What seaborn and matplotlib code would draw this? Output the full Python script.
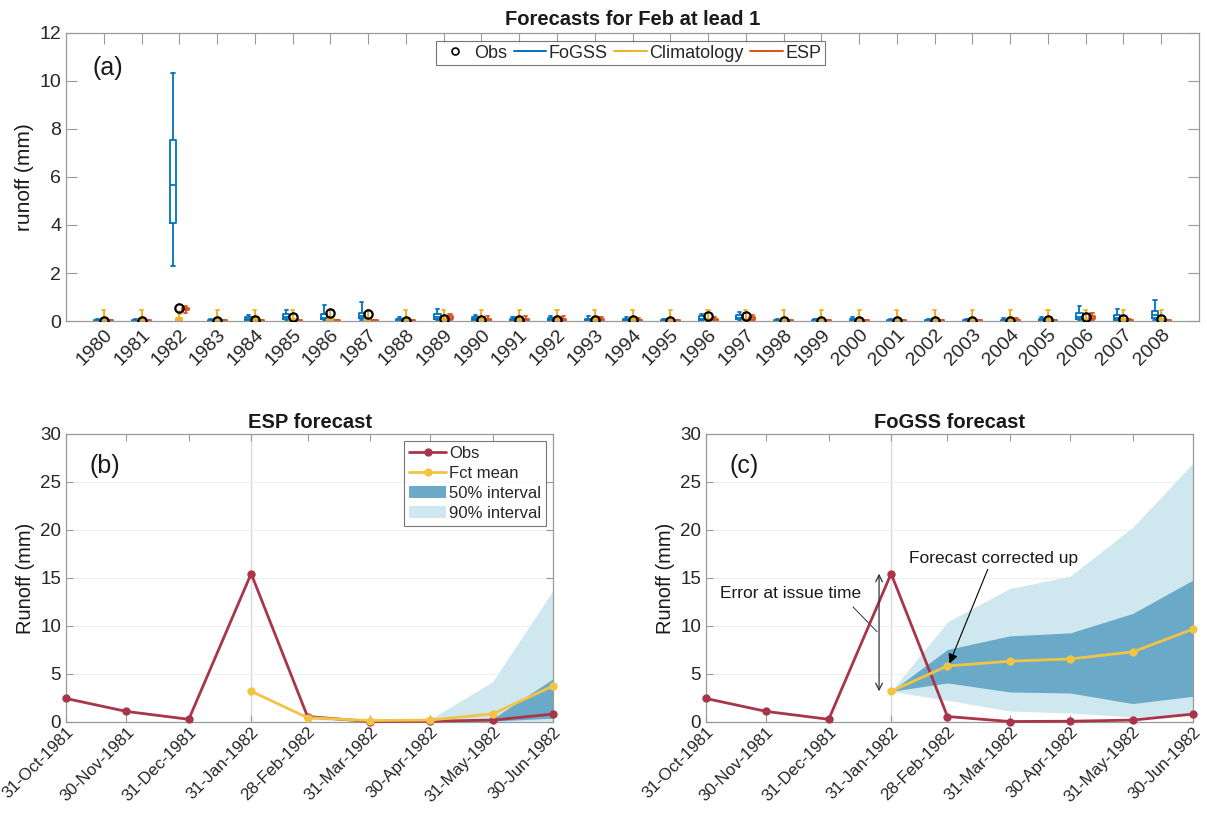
import numpy as np
import pandas as pd
import matplotlib
matplotlib.use("Agg")
import matplotlib.pyplot as plt
import matplotlib.dates as mdates
from matplotlib.lines import Line2D
from matplotlib.patches import Patch
import seaborn as sns

# ---------------- Panel (a): February forecasts, lead 1 ----------------
years = [str(y) for y in range(1980, 2009)]

obs_feb = [0.02, 0.02, 0.55, 0.02, 0.03, 0.17, 0.32, 0.28, 0.02, 0.10,
           0.03, 0.03, 0.03, 0.03, 0.03, 0.02, 0.20, 0.22, 0.02, 0.02,
           0.02, 0.02, 0.02, 0.02, 0.02, 0.03, 0.15, 0.08, 0.07]

# FoGSS ensemble: whisker low, lower quartile, median, upper quartile, whisker high
fogss_lo = [0.00, 0.00, 2.30, 0.00, 0.00, 0.02, 0.02, 0.03, 0.00, 0.02,
            0.00, 0.00, 0.00, 0.00, 0.00, 0.00, 0.00, 0.02, 0.00, 0.00,
            0.00, 0.00, 0.00, 0.00, 0.00, 0.00, 0.02, 0.00, 0.03]
fogss_q1 = [0.01, 0.01, 4.10, 0.01, 0.03, 0.10, 0.07, 0.12, 0.02, 0.10,
            0.04, 0.02, 0.03, 0.03, 0.02, 0.01, 0.05, 0.08, 0.01, 0.01,
            0.02, 0.01, 0.01, 0.01, 0.01, 0.02, 0.07, 0.06, 0.14]
fogss_md = [0.02, 0.02, 5.65, 0.02, 0.07, 0.16, 0.14, 0.20, 0.05, 0.16,
            0.08, 0.05, 0.06, 0.06, 0.04, 0.02, 0.10, 0.14, 0.02, 0.02,
            0.04, 0.02, 0.02, 0.02, 0.03, 0.05, 0.16, 0.14, 0.25]
fogss_q3 = [0.04, 0.04, 7.55, 0.04, 0.15, 0.30, 0.28, 0.33, 0.10, 0.28,
            0.15, 0.10, 0.12, 0.10, 0.08, 0.04, 0.20, 0.25, 0.04, 0.04,
            0.08, 0.04, 0.04, 0.04, 0.06, 0.10, 0.33, 0.27, 0.42]
fogss_hi = [0.08, 0.08, 10.35, 0.08, 0.25, 0.45, 0.68, 0.80, 0.18, 0.50,
            0.24, 0.18, 0.22, 0.20, 0.15, 0.08, 0.30, 0.38, 0.08, 0.08,
            0.15, 0.08, 0.08, 0.08, 0.12, 0.18, 0.62, 0.48, 0.88]

# Climatology ensemble
clim_lo = [0.00] * 29
clim_q1 = [0.01, 0.01, 0.02, 0.01, 0.01, 0.01, 0.01, 0.01, 0.01, 0.01,
           0.01, 0.01, 0.01, 0.01, 0.01, 0.01, 0.01, 0.01, 0.01, 0.01,
           0.01, 0.01, 0.01, 0.01, 0.01, 0.01, 0.01, 0.01, 0.01]
clim_md = [0.04, 0.04, 0.06, 0.04, 0.04, 0.04, 0.04, 0.04, 0.04, 0.04,
           0.04, 0.04, 0.04, 0.04, 0.04, 0.04, 0.04, 0.04, 0.04, 0.04,
           0.04, 0.04, 0.04, 0.04, 0.04, 0.04, 0.04, 0.04, 0.04]
clim_q3 = [0.10, 0.10, 0.14, 0.10, 0.10, 0.10, 0.10, 0.10, 0.10, 0.10,
           0.10, 0.10, 0.10, 0.10, 0.10, 0.10, 0.10, 0.10, 0.10, 0.10,
           0.10, 0.10, 0.10, 0.10, 0.10, 0.10, 0.10, 0.10, 0.10]
clim_hi = [0.44, 0.44, 0.30, 0.44, 0.44, 0.44, 0.44, 0.44, 0.44, 0.44,
           0.44, 0.44, 0.44, 0.44, 0.44, 0.44, 0.44, 0.44, 0.44, 0.44,
           0.44, 0.44, 0.44, 0.44, 0.44, 0.44, 0.44, 0.44, 0.44]

# ESP ensemble
esp_lo = [0.00, 0.00, 0.35, 0.00, 0.00, 0.00, 0.00, 0.00, 0.00, 0.05,
          0.00, 0.00, 0.00, 0.00, 0.00, 0.00, 0.00, 0.00, 0.00, 0.00,
          0.00, 0.00, 0.00, 0.00, 0.00, 0.00, 0.02, 0.00, 0.00]
esp_q1 = [0.00, 0.00, 0.45, 0.00, 0.00, 0.00, 0.00, 0.00, 0.00, 0.10,
          0.02, 0.02, 0.02, 0.02, 0.01, 0.00, 0.01, 0.03, 0.00, 0.00,
          0.00, 0.00, 0.00, 0.00, 0.01, 0.00, 0.08, 0.01, 0.00]
esp_md = [0.01, 0.01, 0.50, 0.01, 0.01, 0.01, 0.01, 0.01, 0.01, 0.14,
          0.05, 0.05, 0.05, 0.05, 0.03, 0.01, 0.03, 0.07, 0.01, 0.01,
          0.01, 0.01, 0.01, 0.01, 0.03, 0.01, 0.14, 0.03, 0.01]
esp_q3 = [0.03, 0.03, 0.55, 0.03, 0.03, 0.03, 0.03, 0.03, 0.03, 0.20,
          0.10, 0.10, 0.10, 0.10, 0.06, 0.03, 0.07, 0.15, 0.03, 0.03,
          0.03, 0.03, 0.03, 0.03, 0.06, 0.03, 0.22, 0.06, 0.03]
esp_hi = [0.06, 0.06, 0.62, 0.06, 0.06, 0.06, 0.06, 0.06, 0.06, 0.30,
          0.20, 0.20, 0.20, 0.18, 0.12, 0.06, 0.15, 0.25, 0.06, 0.06,
          0.06, 0.06, 0.06, 0.06, 0.12, 0.06, 0.35, 0.10, 0.06]

models = ["FoGSS", "Climatology", "ESP"]
model_colors = {"FoGSS": "#0072BD", "Climatology": "#EDB120", "ESP": "#D95319"}

# ---------------- Panels (b) and (c): monthly series around issue time ----------------
obs_dates = ["1981-10-31", "1981-11-30", "1981-12-31", "1982-01-31", "1982-02-28",
             "1982-03-31", "1982-04-30", "1982-05-31", "1982-06-30"]
obs_monthly = [2.45, 1.10, 0.28, 15.45, 0.57, 0.05, 0.08, 0.20, 0.82]

fct_dates = ["1982-01-31", "1982-02-28", "1982-03-31", "1982-04-30",
             "1982-05-31", "1982-06-30"]

esp_mean = [3.20, 0.45, 0.15, 0.20, 0.85, 3.75]
esp_p05 = [np.nan, 0.30, 0.02, 0.02, 0.05, 0.10]
esp_p25 = [np.nan, 0.40, 0.05, 0.05, 0.10, 0.40]
esp_p75 = [np.nan, 0.55, 0.12, 0.15, 0.35, 4.50]
esp_p95 = [np.nan, 0.70, 0.20, 0.30, 4.20, 13.70]

fogss_mean = [3.20, 5.84, 6.33, 6.57, 7.30, 9.67]
fogss_p05 = [3.20, 2.26, 1.15, 0.94, 0.52, 0.70]
fogss_p25 = [3.20, 4.07, 3.13, 3.02, 1.92, 2.68]
fogss_p75 = [3.20, 7.55, 8.97, 9.28, 11.30, 14.78]
fogss_p95 = [3.20, 10.43, 13.90, 15.19, 20.27, 26.94]

issue_date = "1982-01-31"

# ---------------- Styling ----------------
sns.set_theme(style="ticks")
plt.rcParams["font.family"] = ["Liberation Sans", "DejaVu Sans"]
plt.rcParams["axes.edgecolor"] = "#9a9a9a"
plt.rcParams["xtick.color"] = "#9a9a9a"
plt.rcParams["ytick.color"] = "#9a9a9a"
plt.rcParams["xtick.labelcolor"] = "#262626"
plt.rcParams["ytick.labelcolor"] = "#262626"

TEXT = "#1a1a1a"
OBS_C = "#A8354A"
MEAN_C = "#F2C443"
BAND50 = "#6AA9C8"
BAND90 = "#CFE7EE"

fig = plt.figure(figsize=(12.07, 8.16), dpi=100)
ax_a = fig.add_axes([0.0547, 0.6066, 0.9387, 0.3530])
ax_b = fig.add_axes([0.0547, 0.1152, 0.4035, 0.3530])
ax_c = fig.add_axes([0.5849, 0.1152, 0.4035, 0.3530])

# ---- (a) box plots from five-number summaries ----
rows = []
stat_sets = {
    "FoGSS": (fogss_lo, fogss_q1, fogss_md, fogss_q3, fogss_hi),
    "Climatology": (clim_lo, clim_q1, clim_md, clim_q3, clim_hi),
    "ESP": (esp_lo, esp_q1, esp_md, esp_q3, esp_hi),
}
for m in models:
    for i, yr in enumerate(years):
        for arr in stat_sets[m]:
            rows.append({"year": yr, "model": m, "runoff": arr[i]})
box_df = pd.DataFrame(rows)

sns.boxplot(data=box_df, x="year", y="runoff", hue="model", hue_order=models,
            order=years, palette=model_colors, fill=False, whis=(0, 100),
            width=0.5, gap=0, linewidth=1.3, legend=False, ax=ax_a)

sns.pointplot(x=years, y=obs_feb, order=years, linestyle="none", marker="o",
              color="black", markerfacecolor="none", markersize=6,
              markeredgewidth=1.6, errorbar=None, ax=ax_a, zorder=5)

ax_a.set_xlim(-1, len(years))
ax_a.set_ylim(0, 12)
ax_a.set_yticks(np.arange(0, 13, 2))
ax_a.set_xlabel("")
ax_a.set_ylabel("runoff (mm)", fontsize=15, color=TEXT)
ax_a.set_title("Forecasts for Feb at lead 1", fontsize=14.5, fontweight="bold",
               color=TEXT, pad=6)
ax_a.tick_params(axis="both", direction="in", top=True, right=True, length=8,
                 width=0.8, labelsize=14)
for lab in ax_a.get_xticklabels():
    lab.set_rotation(45)
    lab.set_ha("right")
    lab.set_rotation_mode("anchor")
for s in ax_a.spines.values():
    s.set_visible(True)
    s.set_linewidth(0.9)
ax_a.text(0.023, 0.92, "(a)", transform=ax_a.transAxes, fontsize=18,
          va="top", ha="left", color=TEXT)

leg_handles = [
    Line2D([], [], linestyle="none", marker="o", markerfacecolor="none",
           markeredgecolor="black", markersize=5, markeredgewidth=1.2),
    Line2D([], [], color=model_colors["FoGSS"], lw=1.4),
    Line2D([], [], color=model_colors["Climatology"], lw=1.4),
    Line2D([], [], color=model_colors["ESP"], lw=1.4),
]
leg = ax_a.legend(leg_handles, ["Obs"] + models, loc="upper center",
                  bbox_to_anchor=(0.498, 0.985), ncol=4, fontsize=13,
                  frameon=True, fancybox=False, handlelength=1.8,
                  handletextpad=0.15, columnspacing=0.35, borderpad=0.2,
                  borderaxespad=0.2)
leg.get_frame().set_edgecolor("#555555")
leg.get_frame().set_linewidth(0.8)


# ---- (b) and (c) ----
def draw_panel(ax, title, tag, mean, p05, p25, p75, p95, show_legend):
    obs_df = pd.DataFrame({"date": pd.to_datetime(obs_dates), "runoff": obs_monthly})
    fct_df = pd.DataFrame({"date": pd.to_datetime(fct_dates), "mean": mean,
                           "p05": p05, "p25": p25, "p75": p75, "p95": p95})
    band = fct_df.dropna()

    ax.axvline(pd.Timestamp(issue_date), color="#d9d9d9", lw=1.0, zorder=0)
    ax.fill_between(band["date"], band["p05"], band["p95"], color=BAND90,
                    lw=0, zorder=1)
    ax.fill_between(band["date"], band["p25"], band["p75"], color=BAND50,
                    lw=0, zorder=2)
    sns.lineplot(data=obs_df, x="date", y="runoff", color=OBS_C, lw=2.0,
                 marker="o", markersize=6, markeredgewidth=0, ax=ax,
                 zorder=3, clip_on=False)
    sns.lineplot(data=fct_df, x="date", y="mean", color=MEAN_C, lw=2.0,
                 marker="o", markersize=6, markeredgewidth=0, ax=ax,
                 zorder=4, clip_on=False)

    ax.set_xlim(pd.Timestamp(obs_dates[0]), pd.Timestamp(obs_dates[-1]))
    ax.set_ylim(0, 30)
    ax.set_yticks(np.arange(0, 31, 5))
    ax.set_xticks(pd.to_datetime(obs_dates))
    ax.xaxis.set_major_formatter(mdates.DateFormatter("%d-%b-%Y"))
    ax.yaxis.grid(True, color="#f0f0f0", lw=0.8)
    ax.set_axisbelow(True)
    ax.set_xlabel("")
    ax.set_ylabel("Runoff (mm)", fontsize=14.5, color=TEXT)
    ax.set_title(title, fontsize=14.5, fontweight="bold", color=TEXT, pad=4)
    ax.tick_params(axis="y", direction="in", right=True, length=5, width=0.8,
                   labelsize=13.5)
    ax.tick_params(axis="x", direction="in", top=True, length=5, width=0.8,
                   labelsize=12.2, pad=1.5)
    for lab in ax.get_xticklabels():
        lab.set_rotation(45)
        lab.set_ha("right")
        lab.set_rotation_mode("anchor")
    for s in ax.spines.values():
        s.set_visible(True)
        s.set_linewidth(0.9)
    ax.text(0.048, 0.93, tag, transform=ax.transAxes, fontsize=18, va="top",
            ha="left", color=TEXT)

    if show_legend:
        handles = [
            Line2D([], [], color=OBS_C, lw=2.0, marker="o", markersize=6,
                   markeredgewidth=0),
            Line2D([], [], color=MEAN_C, lw=2.0, marker="o", markersize=6,
                   markeredgewidth=0),
            Patch(facecolor=BAND50, edgecolor="none"),
            Patch(facecolor=BAND90, edgecolor="none"),
        ]
        lg = ax.legend(handles, ["Obs", "Fct mean", "50% interval", "90% interval"],
                       loc="upper right", fontsize=12, frameon=True,
                       fancybox=False, handlelength=2.2, handletextpad=0.2,
                       borderpad=0.3, labelspacing=0.3, borderaxespad=0.4)
        lg.get_frame().set_edgecolor("#555555")
        lg.get_frame().set_linewidth(0.8)


draw_panel(ax_b, "ESP forecast", "(b)", esp_mean, esp_p05, esp_p25, esp_p75,
           esp_p95, True)
draw_panel(ax_c, "FoGSS forecast", "(c)", fogss_mean, fogss_p05, fogss_p25,
           fogss_p75, fogss_p95, False)

# Annotations explaining the FoGSS correction
arrow_x = pd.Timestamp("1982-01-25")
ax_c.annotate("", xy=(arrow_x, obs_monthly[3]), xytext=(arrow_x, fogss_mean[0]),
              arrowprops=dict(arrowstyle="<->", color="#333333", lw=0.9,
                              shrinkA=0, shrinkB=0))
ax_c.text(pd.Timestamp("1981-11-07"), 13.4, "Error at issue time", fontsize=12.5,
          color=TEXT, va="center", ha="left")
ax_c.plot([pd.Timestamp("1982-01-12"), pd.Timestamp("1982-01-24")], [12.0, 9.4],
          color="#333333", lw=0.7)
ax_c.text(pd.Timestamp("1982-02-09"), 17.0, "Forecast corrected up", fontsize=12.5,
          color=TEXT, va="center", ha="left")
ax_c.annotate("", xy=(pd.Timestamp("1982-03-01"), 6.1),
              xytext=(pd.Timestamp("1982-03-20"), 15.9),
              arrowprops=dict(arrowstyle="-|>", color="black", lw=0.8,
                              mutation_scale=14, shrinkA=0, shrinkB=0))

fig.savefig("out.png", dpi=100)
